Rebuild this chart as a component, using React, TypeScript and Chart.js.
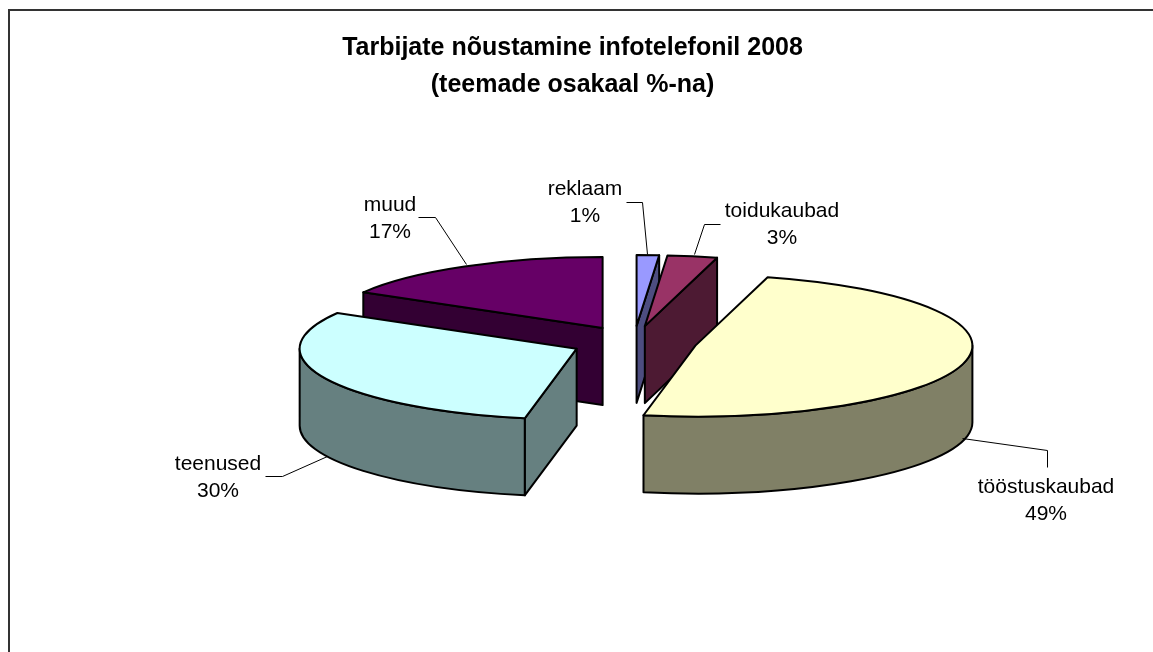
import React, { useEffect, useRef } from "react";
import { Chart, registerables } from "chart.js";

Chart.register(...registerables);

const titleLines = ["Tarbijate nõustamine infotelefonil 2008", "(teemade osakaal %-na)"];
const categories = ["reklaam", "toidukaubad", "tööstuskaubad", "teenused", "muud"];
const values = [1.3, 2.9, 48.8, 30.4, 16.6];
const percentLabels = ["1%", "3%", "49%", "30%", "17%"];
const topColors = ["#9999FF", "#993366", "#FFFFCC", "#CCFFFF", "#660066"];
const sideColors = ["#4D4D80", "#4D1A33", "#808066", "#668080", "#330033"];

// painter's order: back slices first
const drawOrder = [4, 0, 1, 3, 2];

const FONT = '"Liberation Sans", Arial, sans-serif';
const PIE = { cx: 634, cy: 342, radius: 277, squash: 0.256, depth: 77, explode: 63 };

const labelLayout = [
  { x: 585, y: 189, leader: [[626, 202], [642, 202], [647, 254]] },
  { x: 782, y: 211, leader: [[720, 224], [704, 224], [694, 254]] },
  { x: 1046, y: 487, leader: [[1047, 467], [1047, 450], [962, 438]] },
  { x: 218, y: 464, leader: [[265, 476], [282, 476], [327, 456]] },
  { x: 390, y: 205, leader: [[418, 217], [435, 217], [466, 264]] },
];

const pie3d = {
  id: "pie3d",
  beforeDatasetsDraw(chart: any) {
    const ctx = chart.ctx as CanvasRenderingContext2D;
    const arcs = chart.getDatasetMeta(0).data as any[];
    ctx.save();

    // chart frame
    ctx.strokeStyle = "#333333";
    ctx.lineWidth = 2;
    ctx.beginPath();
    ctx.moveTo(9, 652);
    ctx.lineTo(9, 10);
    ctx.lineTo(1153, 10);
    ctx.stroke();

    ctx.lineJoin = "round";
    ctx.lineWidth = 2;
    ctx.strokeStyle = "#000000";

    for (const i of drawOrder) {
      const { startAngle: a0, endAngle: a1, outerRadius: r } = arcs[i].getProps(
        ["startAngle", "endAngle", "outerRadius"],
        true
      );
      const ry = r * PIE.squash;
      const mid = (a0 + a1) / 2;
      const cx = PIE.cx + Math.cos(mid) * PIE.explode;
      const cy = PIE.cy + Math.sin(mid) * PIE.explode * PIE.squash;
      const px = (a: number) => cx + Math.cos(a) * r;
      const py = (a: number) => cy + Math.sin(a) * ry;

      ctx.fillStyle = sideColors[i];
      const radialWall = (a: number) => {
        ctx.beginPath();
        ctx.moveTo(cx, cy);
        ctx.lineTo(px(a), py(a));
        ctx.lineTo(px(a), py(a) + PIE.depth);
        ctx.lineTo(cx, cy + PIE.depth);
        ctx.closePath();
        ctx.fill();
        ctx.stroke();
      };
      if (Math.cos(a0) < 0) radialWall(a0);
      if (Math.cos(a1) > 0) radialWall(a1);

      const s = Math.max(a0, 0);
      const e = Math.min(a1, Math.PI);
      if (e > s) {
        ctx.beginPath();
        ctx.ellipse(cx, cy, r, ry, 0, s, e);
        ctx.ellipse(cx, cy + PIE.depth, r, ry, 0, e, s, true);
        ctx.closePath();
        ctx.fill();
        ctx.stroke();
      }

      ctx.fillStyle = topColors[i];
      ctx.beginPath();
      ctx.moveTo(cx, cy);
      ctx.ellipse(cx, cy, r, ry, 0, a0, a1);
      ctx.closePath();
      ctx.fill();
      ctx.stroke();
    }

    // data labels with leader lines
    ctx.font = `21px ${FONT}`;
    ctx.textAlign = "center";
    ctx.textBaseline = "middle";
    categories.forEach((name, i) => {
      const l = labelLayout[i];
      ctx.fillStyle = "#000000";
      ctx.fillText(name, l.x, l.y);
      ctx.fillText(percentLabels[i], l.x, l.y + 27.5);
      ctx.strokeStyle = "#000000";
      ctx.lineWidth = 1;
      ctx.beginPath();
      l.leader.forEach(([x, y], k) => (k === 0 ? ctx.moveTo(x + 0.5, y + 0.5) : ctx.lineTo(x + 0.5, y + 0.5)));
      ctx.stroke();
    });

    ctx.restore();
    return false;
  },
};

export default function App() {
  const ref = useRef<HTMLCanvasElement>(null);
  useEffect(() => {
    const chart = new Chart(ref.current as HTMLCanvasElement, {
      type: "pie",
      data: {
        labels: categories,
        datasets: [{ data: values, backgroundColor: topColors, borderColor: "#000000", radius: PIE.radius } as any],
      },
      options: {
        responsive: false,
        animation: false,
        layout: { padding: { right: 8 } },
        plugins: {
          legend: { display: false },
          tooltip: { enabled: false },
          title: {
            display: true,
            text: titleLines,
            color: "#000000",
            font: { family: FONT, size: 25, weight: "bold", lineHeight: 1.48 },
            padding: { top: 30, bottom: 10 },
          },
        },
      },
      plugins: [pie3d],
    } as any);
    return () => chart.destroy();
  }, []);
  return (
    <div style={{ position: "fixed", left: 0, top: 0, width: 1153, height: 652, background: "#ffffff" }}>
      <canvas ref={ref} width={1153} height={652} style={{ display: "block" }} />
    </div>
  );
}
